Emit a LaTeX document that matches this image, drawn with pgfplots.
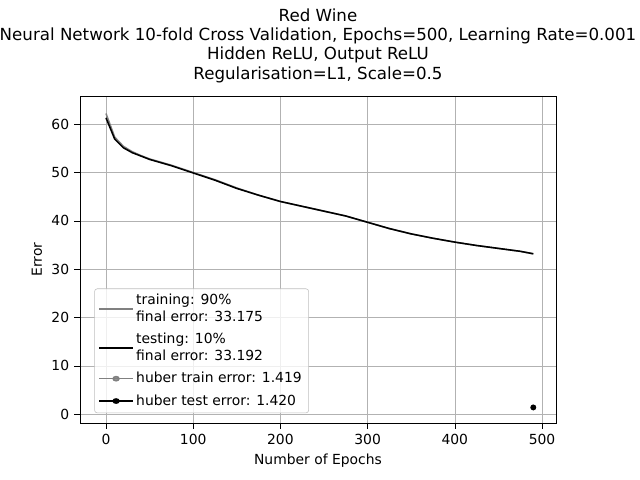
\documentclass[border=0pt]{standalone}
\usepackage{pgfplots}
\pgfplotsset{compat=1.18}
\usepackage{fontspec}
\setmainfont{DejaVu Sans}
\begin{document}
\begin{tikzpicture}
\useasboundingbox (-57.6pt,-41.04pt) rectangle (403.2pt,304.56pt);
\begin{axis}[
  at={(0,0)}, anchor=south west,
  scale only axis, width=342.7pt, height=235.4pt,
  xmin=-29.8, xmax=516, ymin=-1.8, ymax=65.8,
  xtick={0,100,200,300,400,500}, ytick={0,10,20,30,40,50,60},
  xtick pos=left, ytick pos=left,
  grid=major, major grid style={gray!60},
  tick align=outside, tick style={black},
  ticklabel style={font=\fontsize{10}{12}\selectfont},
  /pgf/number format/assume math mode=true,
  xlabel={Number of Epochs}, ylabel={Error},
  label style={font=\fontsize{10}{12}\selectfont},
  title style={font=\fontsize{12}{14}\selectfont, align=center},
  title={Red Wine\\Neural Network 10-fold Cross Validation, Epochs=500, Learning Rate=0.001\\Hidden ReLU, Output ReLU\\Regularisation=L1, Scale=0.5},
  legend pos=south west,
  legend image post style={xscale=1.4},
  legend style={font=\fontsize{10}{12}\selectfont, cells={align=left, anchor=west}, row sep=3pt, draw=gray!50, rounded corners=2pt, fill=white, fill opacity=0.8, text opacity=1},
]
\addplot[gray, line width=1.1pt, no marks] coordinates {(0,62.2)(10,57.3)(20,55.4)(30,54.3)(40,53.5)(50,52.8)(75,51.5)(100,50)(125,48.5)(150,46.8)(175,45.3)(200,44)(225,43)(250,42)(275,41)(300,39.7)(325,38.4)(350,37.3)(375,36.4)(400,35.6)(425,34.9)(450,34.3)(475,33.7)(490,33.175)};
\addlegendentry{training: 90\%\\final error: 33.175}
\addplot[black, line width=1.1pt, no marks] coordinates {(0,61.3)(10,56.9)(20,55.1)(30,54.1)(40,53.4)(50,52.7)(75,51.4)(100,49.9)(125,48.4)(150,46.7)(175,45.3)(200,44)(225,43)(250,42)(275,41)(300,39.7)(325,38.4)(350,37.3)(375,36.4)(400,35.6)(425,34.9)(450,34.3)(475,33.7)(490,33.192)};
\addlegendentry{testing: 10\%\\final error: 33.192}
\addplot[gray, line width=1.1pt, mark=*, mark size=1.5pt] coordinates {(490,1.419)};
\addlegendentry{huber train error: 1.419}
\addplot[black, line width=1.1pt, mark=*, mark size=1.5pt] coordinates {(490,1.420)};
\addlegendentry{huber test error: 1.420}
\end{axis}
\end{tikzpicture}
\end{document}
